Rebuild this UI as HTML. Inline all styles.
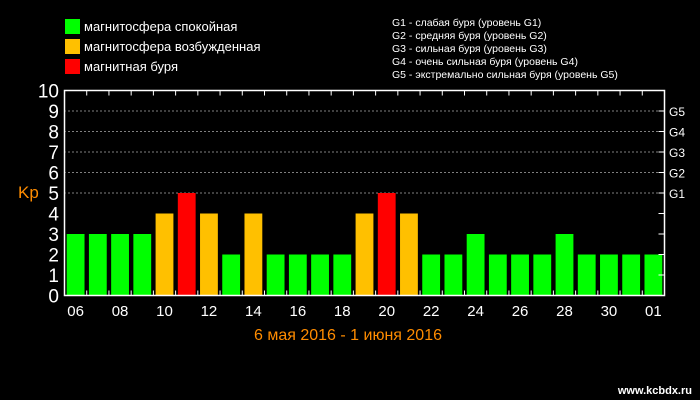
<!DOCTYPE html>
<html><head><meta charset="utf-8"><style>
body{margin:0;background:#000;width:700px;height:400px;overflow:hidden}
svg{display:block}
text{font-family:"Liberation Sans","DejaVu Sans",sans-serif}
</style></head><body>
<svg id="c" width="700" height="400">
<rect x="0" y="0" width="700" height="400" fill="#000"/>
<g>
<rect x="65" y="19" width="15" height="15" fill="#00ff00"/>
<text x="84" y="31" fill="#fff" font-size="13">магнитосфера спокойная</text>
<rect x="65" y="39" width="15" height="15" fill="#ffc000"/>
<text x="84" y="51" fill="#fff" font-size="13">магнитосфера возбужденная</text>
<rect x="65" y="59" width="15" height="15" fill="#ff0000"/>
<text x="84" y="71" fill="#fff" font-size="13">магнитная буря</text>
</g>
<g fill="#fff" font-size="10.5">
<text x="392" y="26">G1 - слабая буря (уровень G1)</text>
<text x="392" y="39">G2 - средняя буря (уровень G2)</text>
<text x="392" y="52">G3 - сильная буря (уровень G3)</text>
<text x="392" y="65">G4 - очень сильная буря (уровень G4)</text>
<text x="392" y="78">G5 - экстремально сильная буря (уровень G5)</text>
</g>
<g id="grid"></g><g id="bars"></g><g id="axes"></g>
<text x="18" y="198" fill="#ff8c00" font-size="17">Kp</text>
<text x="348" y="340" fill="#ff8c00" font-size="16" text-anchor="middle">6 мая 2016 - 1 июня 2016</text>
<text x="692" y="394" fill="#fff" font-size="11" font-weight="bold" text-anchor="end">www.kcbdx.ru</text>
</svg>
<script>
const days=["06","07","08","09","10","11","12","13","14","15","16","17","18","19","20","21","22","23","24","25","26","27","28","29","30","31","01"];
const kp=[3,3,3,3,4,5,4,2,4,2,2,2,2,4,5,4,2,2,3,2,2,2,3,2,2,2,2];
const yTicks=[0,1,2,3,4,5,6,7,8,9,10];
const gLabels=["G1","G2","G3","G4","G5"];
const NS="http://www.w3.org/2000/svg";
const L=64.5,R=664.5,T=90.5,B=295.5;
const y=v=>B-(B-T)*v/10;
const step=(R-L)/days.length;
const x=i=>L+i*step;
function mk(tag,attrs,parent){const e=document.createElementNS(NS,tag);for(const k in attrs)e.setAttribute(k,attrs[k]);document.getElementById(parent).appendChild(e);return e;}
yTicks.forEach(v=>{
 if(v>=5&&v<10){const g=mk('line',{x1:L,x2:R,y1:y(v),y2:y(v),stroke:'#fff','stroke-dasharray':'1 3'},'grid');
 
 }
 const t=mk('text',{x:59,y:y(v)+7,fill:'#fff','font-size':19,'text-anchor':'end'},'axes');t.textContent=v;
 
 
 const tk=mk('line',{x1:R-6,x2:R,y1:y(v),y2:y(v),stroke:'#fff'},'axes');
 
 
});
gLabels.forEach((g,i)=>{const t=mk('text',{x:669,y:y(5+i)+5,fill:'#fff','font-size':12},'axes');t.textContent=g;
 
 });
kp.forEach((v,i)=>{
 const c=v>=5?'#ff0000':v===4?'#ffc000':'#00ff00';
 const b=mk('rect',{x:x(i)+2.2,width:step-4.4,y:y(v),height:B-y(v),fill:c},'bars');
 
 
 if(i>0){['t','b'].forEach(s=>{const l=mk('line',{x1:x(i),x2:x(i),y1:s==='t'?T:B-5,y2:s==='t'?T+5:B,stroke:'#fff'},'axes');
 
 });}
 if(i%2===0){const t=mk('text',{x:x(i)+step/2,y:316,fill:'#fff','font-size':15,'text-anchor':'middle'},'axes');t.textContent=days[i];
 
 }
});
const f=mk('rect',{x:L,y:T,width:R-L,height:B-T,fill:'none',stroke:'#fff','stroke-width':1.5},'axes');


</script>
</body></html>
